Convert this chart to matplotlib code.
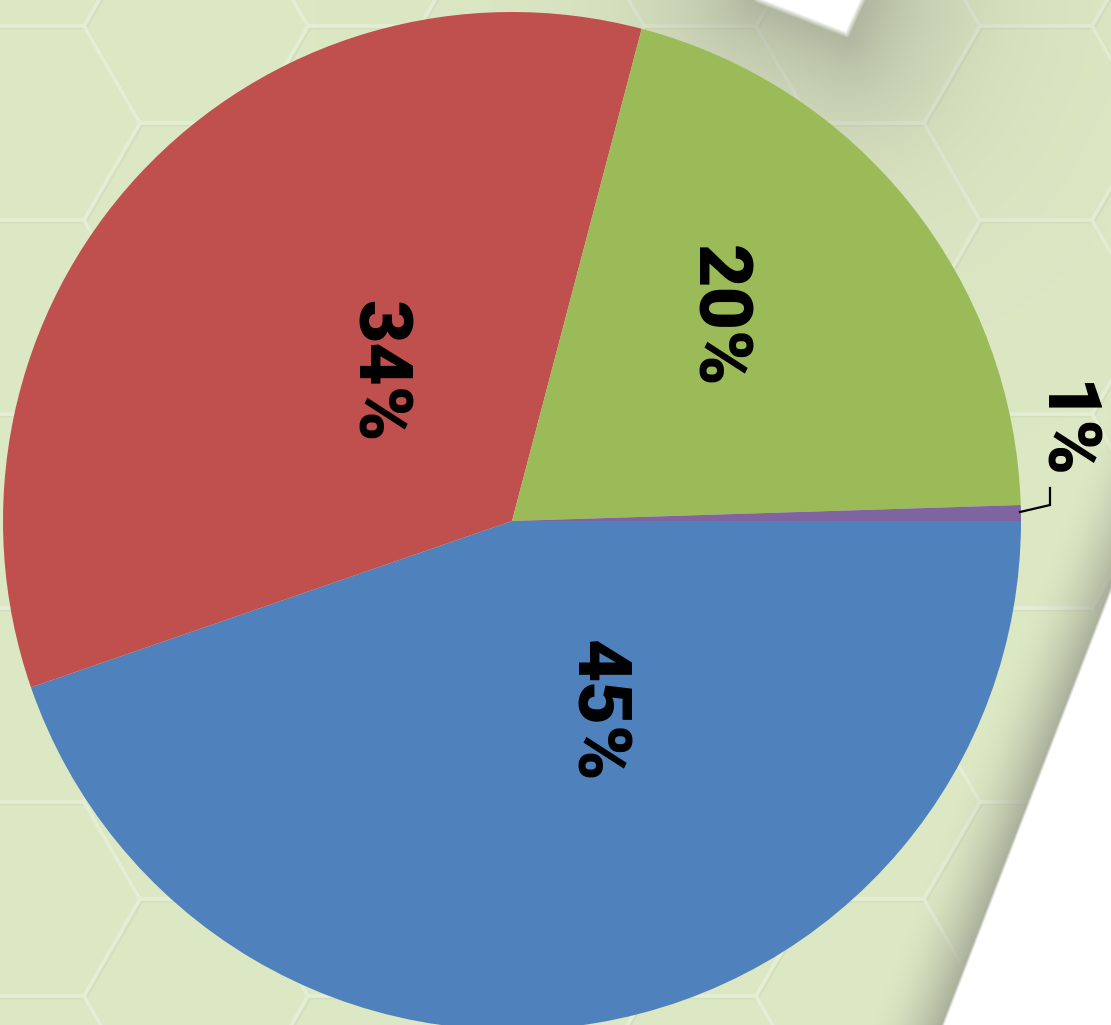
import numpy as np
import matplotlib
matplotlib.use("Agg")
import matplotlib.pyplot as plt
from matplotlib.collections import PolyCollection

# ---- data ----
categories = ["Series A", "Series B", "Series C", "Series D"]
shares = [44.7, 34.4, 20.4, 0.5]
pct_labels = ["45%", "34%", "20%", "1%"]
colors = ["#4F81BD", "#C0504D", "#9BBB59", "#8064A2"]

W, H = 1111, 1025
fig = plt.figure(figsize=(W / 100, H / 100), dpi=100)
ax = fig.add_axes([0, 0, 1, 1])
ax.set_xlim(0, W)
ax.set_ylim(0, H)
ax.axis("off")

# ---- background: light green paper ----
base = np.array([220, 232, 196]) / 255.0
bg = np.ones((H, W, 3)) * base
ax.imshow(bg, extent=[0, W, 0, H], origin="upper", zorder=0, aspect="auto")

# hexagon pattern (flat-top), in image coords then flipped
s = 112.0
dx, dy = 1.5 * s, np.sqrt(3) * s
cx0, cy0 = 1036.0, 123.0
polys = []
for i in range(-8, 4):
    for j in range(-3, 8):
        cx = cx0 + i * dx
        cy = cy0 + j * dy + (dy / 2 if i % 2 else 0)
        ang = np.deg2rad(np.arange(0, 360, 60))
        px = cx + s * np.cos(ang)
        py = cy + s * np.sin(ang)
        polys.append(np.column_stack([px, H - py]))
hexes2 = PolyCollection([p + np.array([2.0, -2.0]) for p in polys], facecolors="none",
                        edgecolors=(0.78, 0.83, 0.70, 0.22), linewidths=2.0, zorder=1)
ax.add_collection(hexes2)
hexes = PolyCollection(polys, facecolors="none", edgecolors=(0.893, 0.932, 0.83),
                       linewidths=2.5, zorder=1)
ax.add_collection(hexes)

# ---- paper curl shading overlay ----
yy, xx = np.mgrid[0:H, 0:W] + 0.5
gray = np.array([155, 158, 142]) / 255.0

# right edge
P1 = np.array([1107.0, 600.0]); P2 = np.array([943.0, 1025.0])
d = P2 - P1
n = np.array([d[1], -d[0]]) / np.hypot(*d)
sd = (xx - P1[0]) * n[0] + (yy - P1[1]) * n[1]
w_r = np.where(sd < 0, np.clip(1 + sd / 70.0, 0, 1) ** 1.8 * 0.78, 0.78)
aw_r = np.clip(sd / 3.0 + 0.5, 0, 1)

# top fold triangle
T = np.array([[757.0, 0.0], [847.0, 35.0], [863.0, 0.0]])

def seg_dist(px, py, a, b):
    ab = b - a
    t = ((px - a[0]) * ab[0] + (py - a[1]) * ab[1]) / (ab @ ab)
    t = np.clip(t, 0, 1)
    qx = a[0] + t * ab[0]
    qy = a[1] + t * ab[1]
    return np.hypot(px - qx, py - qy)

dist = np.minimum(seg_dist(xx, yy, T[0], T[1]), seg_dist(xx, yy, T[1], T[2]))

def side(p, a, b):
    return (b[0] - a[0]) * (p[1] - a[1]) - (b[1] - a[1]) * (p[0] - a[0])

s1 = side((xx, yy), T[0], T[1]); s2 = side((xx, yy), T[1], T[2]); s3 = side((xx, yy), T[2], T[0])
inside = ((s1 >= 0) & (s2 >= 0) & (s3 >= 0)) | ((s1 <= 0) & (s2 <= 0) & (s3 <= 0))
sdt = np.where(inside, -dist, dist)
w_t = 0.70 * np.exp(-np.clip(sdt, 0, None) / 85.0)
aw_t = np.clip(0.5 - sdt / 6.0, 0, 1)

w = np.maximum(w_r, w_t)
aw = np.maximum(aw_r, aw_t)
out_a = aw + w * (1 - aw)
rgb = (np.ones(3) * aw[..., None] + gray * (w * (1 - aw))[..., None]) / np.maximum(out_a, 1e-6)[..., None]
overlay = np.dstack([rgb, out_a])
ax.imshow(overlay, extent=[0, W, 0, H], origin="upper", zorder=2, aspect="auto")

# ---- pie ----
center = (512, H - 521)
radius = 509
wedges, _ = ax.pie(shares, colors=colors, startangle=0, counterclock=False,
                   center=center, radius=radius, frame=True,
                   wedgeprops=dict(linewidth=0))
for wdg in wedges:
    wdg.set_zorder(3)
ax.set_xlim(0, W)
ax.set_ylim(0, H)
ax.set_aspect("equal", adjustable="box")
ax.axis("off")

label_pos = [(596, 711), (377, 371), (717, 316), (1062, 431)]
for txt, (lx, ly) in zip(pct_labels, label_pos):
    ax.text(lx, H - ly, txt, rotation=-90, ha="center", va="center",
            fontsize=54, fontweight="black", family=["Roboto", "DejaVu Sans"],
            color="black", zorder=5)

# leader line for the small slice
ax.plot([1020, 1050, 1050], [H - 512, H - 505, H - 488], color="black",
        lw=1.6, zorder=5, solid_joinstyle="miter")

fig.savefig("out.png", dpi=100)
